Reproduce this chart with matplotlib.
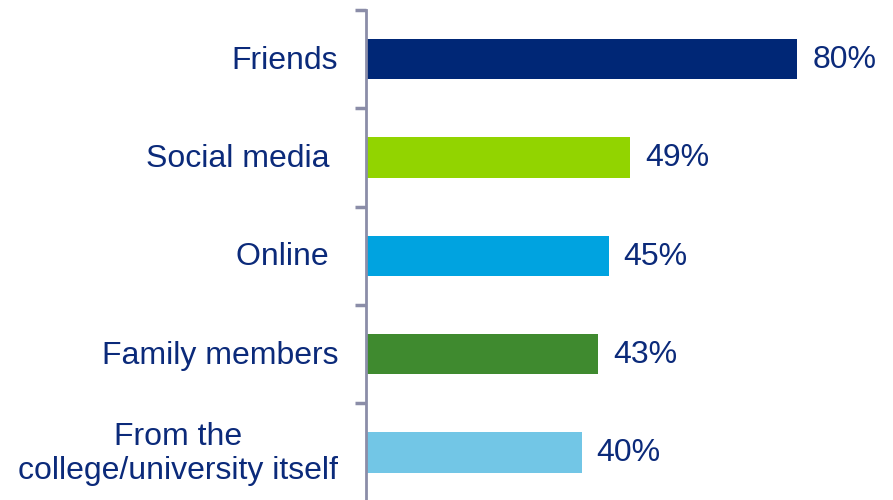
import matplotlib.pyplot as plt

plt.rcParams["font.family"] = ["Liberation Sans", "DejaVu Sans"]

categories = ["Friends", "Social media ", "Online ", "Family members",
              "From the\ncollege/university itself"]
values = [80, 49, 45, 43, 40]
colors = ["#002776", "#92D400", "#00A3E0", "#3F8A2F", "#72C6E6"]
value_labels = ["80%", "49%", "45%", "43%", "40%"]

text_color = "#0B2A7A"
axis_color = "#8B8DA8"

fig = plt.figure(figsize=(8.93, 5.0), dpi=100)
ax = fig.add_axes([366 / 893, -1.5 / 500, 527 / 893, 491.5 / 500])

pos = list(range(len(categories)))
ax.barh(pos, values, height=0.41, color=colors, zorder=2)
ax.set_ylim(len(categories) - 0.5, -0.5)
ax.set_xlim(0, 527 / 5.39)

for y, v, lab in zip(pos, values, value_labels):
    ax.annotate(lab, (v, y), xytext=(15, -1), textcoords="offset pixels",
                va="center", ha="left", fontsize=23, color=text_color)

# category labels, right-aligned left of the axis
for y, cat in zip(pos, categories):
    ax.annotate(cat, (0, y), xytext=(-28, -1.5), textcoords="offset pixels",
                va="center", ha="right", multialignment="center",
                fontsize=23, color=text_color, linespacing=1.15,
                annotation_clip=False)

for side in ["top", "right", "bottom"]:
    ax.spines[side].set_visible(False)
ax.spines["left"].set_color(axis_color)
ax.spines["left"].set_linewidth(2)
ax.set_xticks([])
ax.set_yticks([p - 0.5 for p in pos] + [len(pos) - 0.5])
ax.set_yticklabels([])
ax.tick_params(axis="y", length=8, width=2.5, color=axis_color)

fig.savefig("out.png", dpi=100)
